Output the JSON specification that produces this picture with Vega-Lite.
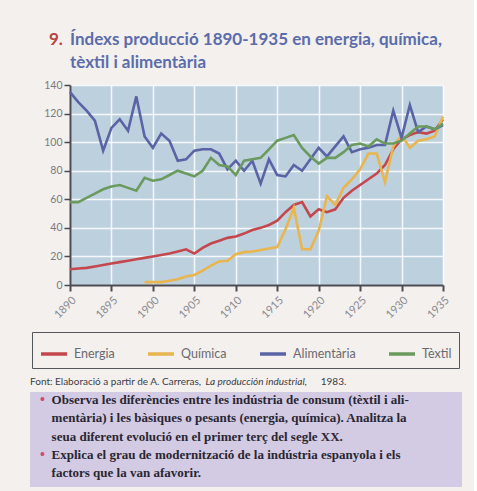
{
  "$schema": "https://vega.github.io/schema/vega-lite/v6.json",
  "background": "#f3f0ed",
  "padding": {"left": 30, "top": 26, "right": 12, "bottom": 4},
  "spacing": 8,
  "resolve": {"scale": {"color": "independent"}, "legend": {"color": "independent"}},
  "config": {"view": {"stroke": null}, "font": "Lato"},
  "datasets": {
    "index": [
      {"any":1890,"sector":"Energia","index":11},{"any":1891,"sector":"Energia","index":11.5},{"any":1892,"sector":"Energia","index":12},{"any":1893,"sector":"Energia","index":13},{"any":1894,"sector":"Energia","index":14},{"any":1895,"sector":"Energia","index":15},{"any":1896,"sector":"Energia","index":16},{"any":1897,"sector":"Energia","index":17},{"any":1898,"sector":"Energia","index":18},{"any":1899,"sector":"Energia","index":19},{"any":1900,"sector":"Energia","index":20},{"any":1901,"sector":"Energia","index":21},{"any":1902,"sector":"Energia","index":22},{"any":1903,"sector":"Energia","index":23.5},{"any":1904,"sector":"Energia","index":25},{"any":1905,"sector":"Energia","index":22},{"any":1906,"sector":"Energia","index":26},{"any":1907,"sector":"Energia","index":29},{"any":1908,"sector":"Energia","index":31},{"any":1909,"sector":"Energia","index":33},{"any":1910,"sector":"Energia","index":34},{"any":1911,"sector":"Energia","index":36},{"any":1912,"sector":"Energia","index":38.5},{"any":1913,"sector":"Energia","index":40},{"any":1914,"sector":"Energia","index":42},{"any":1915,"sector":"Energia","index":45},{"any":1916,"sector":"Energia","index":51},{"any":1917,"sector":"Energia","index":56},{"any":1918,"sector":"Energia","index":58},{"any":1919,"sector":"Energia","index":48},{"any":1920,"sector":"Energia","index":53},{"any":1921,"sector":"Energia","index":51},{"any":1922,"sector":"Energia","index":53},{"any":1923,"sector":"Energia","index":61},{"any":1924,"sector":"Energia","index":66},{"any":1925,"sector":"Energia","index":70},{"any":1926,"sector":"Energia","index":74},{"any":1927,"sector":"Energia","index":78},{"any":1928,"sector":"Energia","index":84},{"any":1929,"sector":"Energia","index":95},{"any":1930,"sector":"Energia","index":102},{"any":1931,"sector":"Energia","index":105},{"any":1932,"sector":"Energia","index":107},{"any":1933,"sector":"Energia","index":106},{"any":1934,"sector":"Energia","index":108},{"any":1935,"sector":"Energia","index":116},
      {"any":1899,"sector":"Química","index":2},{"any":1900,"sector":"Química","index":2},{"any":1901,"sector":"Química","index":2},{"any":1902,"sector":"Química","index":3},{"any":1903,"sector":"Química","index":4},{"any":1904,"sector":"Química","index":6},{"any":1905,"sector":"Química","index":7},{"any":1906,"sector":"Química","index":10},{"any":1907,"sector":"Química","index":13.5},{"any":1908,"sector":"Química","index":16.5},{"any":1909,"sector":"Química","index":17},{"any":1910,"sector":"Química","index":21.5},{"any":1911,"sector":"Química","index":23},{"any":1912,"sector":"Química","index":23.5},{"any":1913,"sector":"Química","index":24.5},{"any":1914,"sector":"Química","index":25.5},{"any":1915,"sector":"Química","index":26.5},{"any":1916,"sector":"Química","index":39},{"any":1917,"sector":"Química","index":54},{"any":1918,"sector":"Química","index":25},{"any":1919,"sector":"Química","index":25},{"any":1920,"sector":"Química","index":38},{"any":1921,"sector":"Química","index":62},{"any":1922,"sector":"Química","index":56},{"any":1923,"sector":"Química","index":68},{"any":1924,"sector":"Química","index":74},{"any":1925,"sector":"Química","index":81},{"any":1926,"sector":"Química","index":92},{"any":1927,"sector":"Química","index":92},{"any":1928,"sector":"Química","index":72},{"any":1929,"sector":"Química","index":97},{"any":1930,"sector":"Química","index":105},{"any":1931,"sector":"Química","index":96},{"any":1932,"sector":"Química","index":101},{"any":1933,"sector":"Química","index":102},{"any":1934,"sector":"Química","index":104},{"any":1935,"sector":"Química","index":118},
      {"any":1890,"sector":"Alimentària","index":135},{"any":1891,"sector":"Alimentària","index":128},{"any":1892,"sector":"Alimentària","index":122},{"any":1893,"sector":"Alimentària","index":115},{"any":1894,"sector":"Alimentària","index":94},{"any":1895,"sector":"Alimentària","index":110},{"any":1896,"sector":"Alimentària","index":116},{"any":1897,"sector":"Alimentària","index":108},{"any":1898,"sector":"Alimentària","index":132},{"any":1899,"sector":"Alimentària","index":104},{"any":1900,"sector":"Alimentària","index":96},{"any":1901,"sector":"Alimentària","index":106},{"any":1902,"sector":"Alimentària","index":101},{"any":1903,"sector":"Alimentària","index":87},{"any":1904,"sector":"Alimentària","index":88},{"any":1905,"sector":"Alimentària","index":94},{"any":1906,"sector":"Alimentària","index":95},{"any":1907,"sector":"Alimentària","index":95},{"any":1908,"sector":"Alimentària","index":92},{"any":1909,"sector":"Alimentària","index":81},{"any":1910,"sector":"Alimentària","index":87},{"any":1911,"sector":"Alimentària","index":80},{"any":1912,"sector":"Alimentària","index":87},{"any":1913,"sector":"Alimentària","index":71},{"any":1914,"sector":"Alimentària","index":88},{"any":1915,"sector":"Alimentària","index":77},{"any":1916,"sector":"Alimentària","index":76},{"any":1917,"sector":"Alimentària","index":84},{"any":1918,"sector":"Alimentària","index":80},{"any":1919,"sector":"Alimentària","index":88},{"any":1920,"sector":"Alimentària","index":96},{"any":1921,"sector":"Alimentària","index":90},{"any":1922,"sector":"Alimentària","index":97},{"any":1923,"sector":"Alimentària","index":104},{"any":1924,"sector":"Alimentària","index":93},{"any":1925,"sector":"Alimentària","index":95},{"any":1926,"sector":"Alimentària","index":96},{"any":1927,"sector":"Alimentària","index":98},{"any":1928,"sector":"Alimentària","index":98},{"any":1929,"sector":"Alimentària","index":122},{"any":1930,"sector":"Alimentària","index":103},{"any":1931,"sector":"Alimentària","index":126},{"any":1932,"sector":"Alimentària","index":107},{"any":1933,"sector":"Alimentària","index":111},{"any":1934,"sector":"Alimentària","index":109},{"any":1935,"sector":"Alimentària","index":112},
      {"any":1890,"sector":"Tèxtil","index":58},{"any":1891,"sector":"Tèxtil","index":58},{"any":1892,"sector":"Tèxtil","index":61},{"any":1893,"sector":"Tèxtil","index":64},{"any":1894,"sector":"Tèxtil","index":67},{"any":1895,"sector":"Tèxtil","index":69},{"any":1896,"sector":"Tèxtil","index":70},{"any":1897,"sector":"Tèxtil","index":68},{"any":1898,"sector":"Tèxtil","index":66},{"any":1899,"sector":"Tèxtil","index":75},{"any":1900,"sector":"Tèxtil","index":73},{"any":1901,"sector":"Tèxtil","index":74},{"any":1902,"sector":"Tèxtil","index":77},{"any":1903,"sector":"Tèxtil","index":80},{"any":1904,"sector":"Tèxtil","index":78},{"any":1905,"sector":"Tèxtil","index":76},{"any":1906,"sector":"Tèxtil","index":80},{"any":1907,"sector":"Tèxtil","index":89},{"any":1908,"sector":"Tèxtil","index":84},{"any":1909,"sector":"Tèxtil","index":83},{"any":1910,"sector":"Tèxtil","index":77},{"any":1911,"sector":"Tèxtil","index":87},{"any":1912,"sector":"Tèxtil","index":88},{"any":1913,"sector":"Tèxtil","index":89},{"any":1914,"sector":"Tèxtil","index":95},{"any":1915,"sector":"Tèxtil","index":101},{"any":1916,"sector":"Tèxtil","index":103},{"any":1917,"sector":"Tèxtil","index":105},{"any":1918,"sector":"Tèxtil","index":96},{"any":1919,"sector":"Tèxtil","index":90},{"any":1920,"sector":"Tèxtil","index":85},{"any":1921,"sector":"Tèxtil","index":89},{"any":1922,"sector":"Tèxtil","index":89},{"any":1923,"sector":"Tèxtil","index":93},{"any":1924,"sector":"Tèxtil","index":98},{"any":1925,"sector":"Tèxtil","index":99},{"any":1926,"sector":"Tèxtil","index":97},{"any":1927,"sector":"Tèxtil","index":102},{"any":1928,"sector":"Tèxtil","index":99},{"any":1929,"sector":"Tèxtil","index":99},{"any":1930,"sector":"Tèxtil","index":101},{"any":1931,"sector":"Tèxtil","index":106},{"any":1932,"sector":"Tèxtil","index":111},{"any":1933,"sector":"Tèxtil","index":111},{"any":1934,"sector":"Tèxtil","index":109},{"any":1935,"sector":"Tèxtil","index":113}
    ],
    "capcalera": [
      {"linia": 1, "tipus": "número", "text": "9."},
      {"linia": 1, "tipus": "títol", "text": "Índexs producció 1890-1935 en energia, química,"},
      {"linia": 2, "tipus": "títol", "text": "tèxtil i alimentària"}
    ],
    "peu": [
      {"linia": 0, "rol": "font", "text": "Font: Elaboració a partir de A. Carreras,"},
      {"linia": 0, "rol": "obra", "text": "La producción industrial,"},
      {"linia": 0, "rol": "any", "text": "1983."},
      {"linia": 1, "rol": "vinyeta", "text": "•"},
      {"linia": 4, "rol": "vinyeta", "text": "•"},
      {"linia": 1, "rol": "pregunta", "text": "Observa les diferències entre les indústria de consum (tèxtil i ali-"},
      {"linia": 2, "rol": "pregunta", "text": "mentària) i les bàsiques o pesants (energia, química). Analitza la"},
      {"linia": 3, "rol": "pregunta", "text": "seua diferent evolució en el primer terç del segle XX."},
      {"linia": 4, "rol": "pregunta", "text": "Explica el grau de modernització de la indústria espanyola i els"},
      {"linia": 5, "rol": "pregunta", "text": "factors que la van afavorir."}
    ],
    "caixa": [{"caixa": "preguntes"}]
  },
  "vconcat": [
    {
      "width": 373,
      "height": 46,
      "data": {"name": "capcalera"},
      "mark": {"type": "text", "align": "left", "baseline": "middle", "font": "Lato", "fontSize": 17, "fontWeight": "bold"},
      "encoding": {
        "x": {"field": "tipus", "type": "ordinal", "scale": {"type": "point", "domain": ["número", "títol"], "range": [-21, 0], "padding": 0}, "axis": null},
        "y": {"field": "linia", "type": "ordinal", "scale": {"type": "point", "domain": [1, 2], "range": [14, 37], "padding": 0}, "axis": null},
        "color": {"field": "tipus", "type": "nominal", "scale": {"domain": ["número", "títol"], "range": ["#b84643", "#5b6cab"]}, "legend": null},
        "text": {"field": "text"}
      }
    },
    {
      "width": 373,
      "height": 200,
      "view": {"fill": "#bdd0de", "stroke": null},
      "data": {"name": "index"},
      "mark": {"type": "line", "strokeWidth": 2.6},
      "encoding": {
        "x": {
          "field": "any", "type": "quantitative",
          "scale": {"domain": [1890, 1935], "nice": false, "zero": false},
          "axis": {
            "title": null, "values": [1890, 1895, 1900, 1905, 1910, 1915, 1920, 1925, 1930, 1935],
            "format": "d", "labelAngle": -45, "labelFont": "Lato", "labelFontSize": 11, "labelColor": "#8a8a92",
            "grid": true, "gridColor": "#ffffff", "gridWidth": 1.5, "gridOpacity": 0.85,
            "domainColor": "#4a4a52", "domainWidth": 2, "tickColor": "#4a4a52", "tickWidth": 2, "tickSize": 6, "labelPadding": 3
          }
        },
        "y": {
          "field": "index", "type": "quantitative",
          "scale": {"domain": [0, 140], "nice": false},
          "axis": {
            "title": null, "values": [0, 20, 40, 60, 80, 100, 120, 140],
            "labelFont": "Lato", "labelFontSize": 10.5, "labelColor": "#7a7a82",
            "grid": true, "gridColor": "#ffffff", "gridWidth": 1.5, "gridOpacity": 0.85,
            "domainColor": "#4a4a52", "domainWidth": 2, "tickColor": "#4a4a52", "tickWidth": 1.5, "tickSize": 6, "labelPadding": 2
          }
        },
        "color": {
          "field": "sector", "type": "nominal",
          "scale": {"domain": ["Energia", "Química", "Alimentària", "Tèxtil"], "range": ["#c4474d", "#e8b54e", "#5a63a6", "#6b9a5e"]},
          "legend": {
            "title": null, "orient": "none", "legendX": -38, "legendY": 247, "direction": "horizontal",
            "symbolType": "stroke", "symbolStrokeWidth": 3.5, "symbolSize": 676,
            "labelFont": "Lato", "labelFontSize": 12.5, "labelColor": "#6a6a70", "labelOffset": 5,
            "columnPadding": 26, "padding": 7, "strokeColor": "#55555c"
          }
        }
      }
    },
    {
      "width": 373,
      "height": 111,
      "layer": [
        {
          "data": {"name": "caixa"},
          "mark": {"type": "rect", "fill": "#d2cbe3"},
          "encoding": {
            "x": {"datum": 0, "type": "quantitative", "scale": {"domain": [0, 100], "range": [-40, 392]}, "axis": null},
            "x2": {"datum": 100},
            "y": {"datum": 0.55, "type": "quantitative", "scale": {"domain": [0, 5], "range": [3, 94]}, "axis": null},
            "y2": {"datum": 5.77}
          }
        },
        {
          "data": {"name": "peu"},
          "transform": [{"filter": "datum.rol === 'font'"}],
          "mark": {"type": "text", "align": "left", "baseline": "middle", "font": "Lato", "fontSize": 10, "color": "#3c3c44"},
          "encoding": {
            "x": {"datum": 0, "type": "quantitative"},
            "y": {"field": "linia", "type": "quantitative"},
            "text": {"field": "text"}
          }
        },
        {
          "data": {"name": "peu"},
          "transform": [{"filter": "datum.rol === 'obra'"}],
          "mark": {"type": "text", "align": "left", "baseline": "middle", "font": "Lato", "fontSize": 10, "fontStyle": "italic", "color": "#3c3c44"},
          "encoding": {
            "x": {"datum": 40.6, "type": "quantitative"},
            "y": {"field": "linia", "type": "quantitative"},
            "text": {"field": "text"}
          }
        },
        {
          "data": {"name": "peu"},
          "transform": [{"filter": "datum.rol === 'any'"}],
          "mark": {"type": "text", "align": "left", "baseline": "middle", "font": "Lato", "fontSize": 10, "color": "#3c3c44"},
          "encoding": {
            "x": {"datum": 67.3, "type": "quantitative"},
            "y": {"field": "linia", "type": "quantitative"},
            "text": {"field": "text"}
          }
        },
        {
          "data": {"name": "peu"},
          "transform": [{"filter": "datum.rol === 'vinyeta'"}],
          "mark": {"type": "text", "align": "left", "baseline": "middle", "font": "Liberation Serif", "fontSize": 14, "fontWeight": "bold", "color": "#d04a6c"},
          "encoding": {
            "x": {"datum": 2.3, "type": "quantitative"},
            "y": {"field": "linia", "type": "quantitative"},
            "text": {"field": "text"}
          }
        },
        {
          "data": {"name": "peu"},
          "transform": [{"filter": "datum.rol === 'pregunta'"}],
          "mark": {"type": "text", "align": "left", "baseline": "middle", "font": "Liberation Serif", "fontSize": 13, "fontWeight": "bold", "color": "#2a2632"},
          "encoding": {
            "x": {"datum": 5, "type": "quantitative"},
            "y": {"field": "linia", "type": "quantitative"},
            "text": {"field": "text"}
          }
        }
      ]
    }
  ]
}
